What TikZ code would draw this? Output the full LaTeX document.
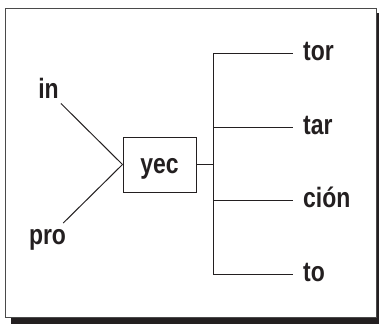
\documentclass[tikz,border=0pt]{standalone}
\usepackage{fontspec}
\usepackage{tikz}
\newfontfamily\morphfont{Liberation Sans}[FakeStretch=0.82]
\definecolor{cink}{HTML}{231f20}
\definecolor{cframe}{HTML}{4a4a4a}

\begin{document}
\begin{tikzpicture}[x=1pt,y=-1pt,
  morph/.style={inner sep=0pt,text height=14.5pt,text depth=0pt,text=cink,
    font=\morphfont\bfseries\fontsize{28}{30}\selectfont},
  ending/.style={morph,anchor=west,inner xsep=10pt},
  stem/.style={draw=cink,line width=1pt,minimum width=73pt,minimum height=55pt,
    inner sep=0pt,text height=18.5pt,text depth=0pt,text=cink,
    font=\morphfont\bfseries\fontsize{28}{30}\selectfont},
  link/.style={draw=cink,line width=1pt}]
  \useasboundingbox (0,0) rectangle (379,324);
  % frame with shadow
  \fill[cink] (11,13) rectangle (379,324);
  \filldraw[fill=white,draw=cframe,line width=1pt] (5.5,8) rectangle (376,317.5);
  % prefixes and stem
  \node[morph] (in) at (48.5,91) {in};
  \node[morph] (pro) at (47.5,237.5) {pro};
  \node[stem] (yec) at (159.5,164.5) {yec};
  % endings
  \node[ending] (tor) at (293,53.5) {tor};
  \node[ending] (tar) at (293,127) {tar};
  \node[ending] (cion) at (293,200.5) {ción};
  \node[ending] (to) at (293,274) {to};
  \coordinate (ttop) at (213,53.5);
  \coordinate (tbot) at (213,274);
  \draw[link] ([shift={(2pt,-5pt)}]in.south east) -- (yec.west);
  \draw[link] ([shift={(-3pt,7pt)}]pro.north east) -- (yec.west);
  \draw[link] (yec.east) -- (yec.east -| ttop);
  \draw[link] (ttop) -- (tbot);
  \foreach \e in {tor,tar,cion,to}
    \draw[link] (\e.west -| ttop) -- (\e.west);
\end{tikzpicture}
\end{document}
